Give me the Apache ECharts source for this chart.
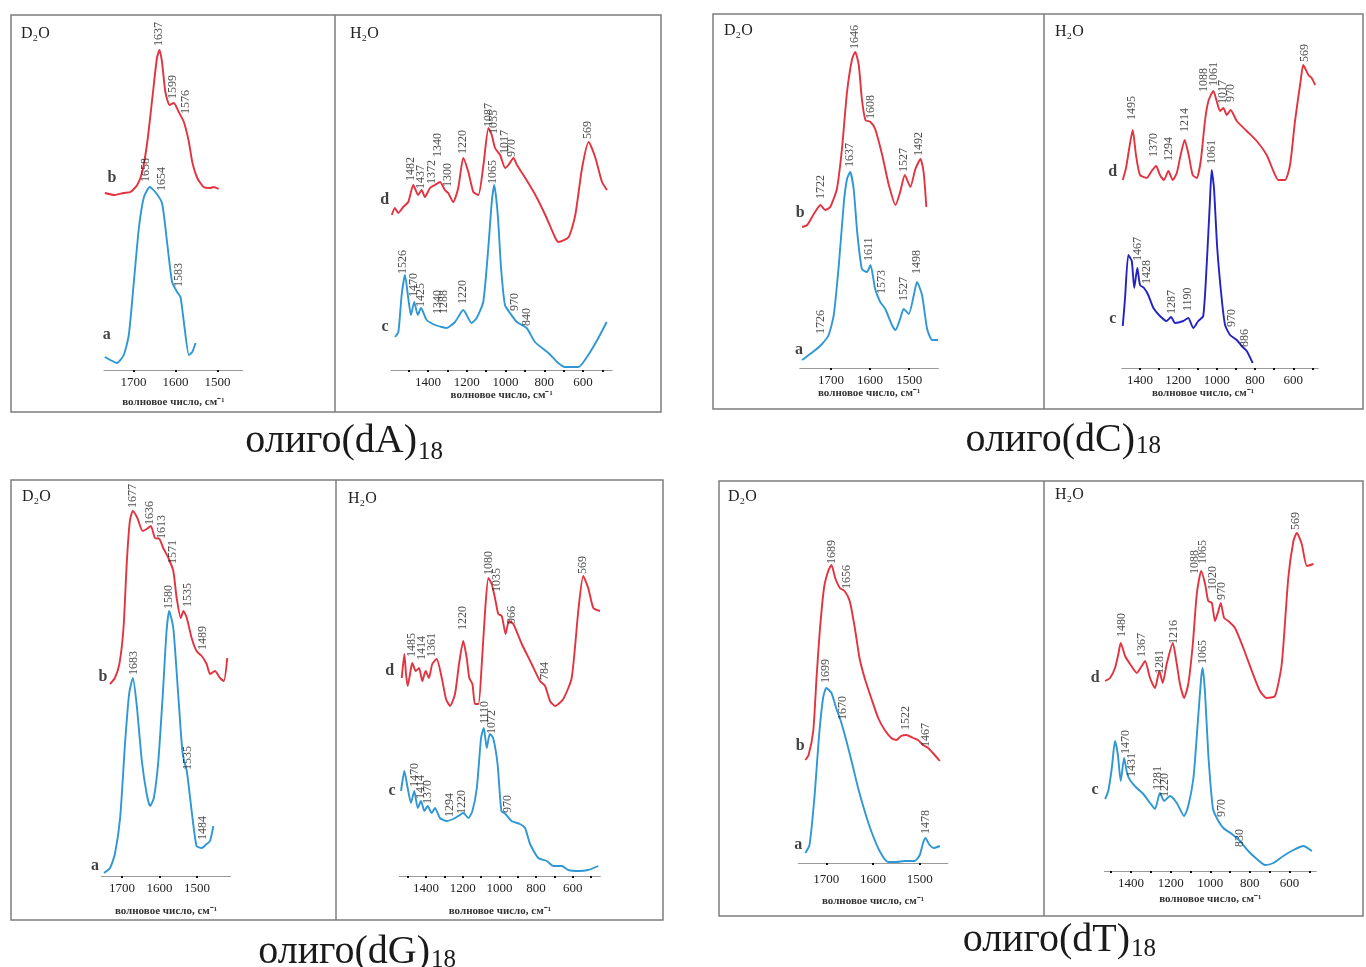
<!DOCTYPE html>
<html><head><meta charset="utf-8">
<script src="https://cdn.jsdelivr.net/npm/echarts@6.0.0/dist/echarts.min.js"></script>
<style>html,body{margin:0;padding:0;background:#fff}#c{width:1366px;height:967px}</style>
</head><body><div id="c"></div><script>
// ---- tick values ----
const d2oTicks = [1700, 1600, 1500];
const h2oLabels = [1400, 1200, 1000, 800, 600];
const h2oTicks = [1500, 1400, 1300, 1200, 1100, 1000, 900, 800, 700, 600, 500];

// ---- olig(dA)18 ----
const dA_D2O_b = [[1768,177],[1745,175],[1723,177],[1707,178],[1691,185],[1679,198],[1667,228],[1655,272],[1644,312],[1638,320],[1632,308],[1624,278],[1614,265],[1604,267],[1592,258],[1580,248],[1568,228],[1560,208],[1548,192],[1533,183],[1517,182],[1509,183],[1497,181]];
const dA_D2O_a = [[1768,13],[1755,10],[1739,7],[1723,15],[1711,35],[1699,88],[1687,142],[1675,173],[1661,183],[1648,178],[1632,167],[1620,128],[1608,88],[1596,78],[1588,73],[1580,48],[1568,15],[1560,18],[1552,27]];
const dA_D2O_b_pk = [[1640,323,'1637'],[1606,270,'1599'],[1576,255,'1576']];
const dA_D2O_a_pk = [[1671,187,'1658'],[1632,178,'1654'],[1591,82,'1583']];
const dA_H2O_d = [[1587,155],[1571,162],[1554,157],[1528,163],[1502,168],[1476,185],[1451,175],[1433,180],[1416,173],[1390,182],[1364,185],[1338,188],[1313,180],[1296,177],[1270,168],[1244,182],[1218,212],[1192,198],[1166,178],[1140,175],[1114,205],[1088,242],[1071,235],[1054,222],[1028,215],[1002,202],[985,205],[959,212],[941,205],[898,192],[846,175],[795,155],[743,132],[726,128],[674,133],[640,155],[605,202],[571,228],[536,212],[502,188],[476,180]];
const dA_H2O_c = [[1570,33],[1553,38],[1536,75],[1519,95],[1502,72],[1488,55],[1471,68],[1453,55],[1436,62],[1407,50],[1364,45],[1329,43],[1304,42],[1261,48],[1218,60],[1175,47],[1149,52],[1115,68],[1089,122],[1071,168],[1058,185],[1040,155],[1023,102],[1003,65],[977,57],[942,48],[891,42],[848,28],[779,17],[728,7],[693,3],[624,3],[573,15],[521,32],[478,48]];
const dA_H2O_d_pk = [[1488,188,'1482'],[1436,180,'1437'],[1381,185,'1372'],[1348,212,'1340'],[1297,182,'1300'],[1219,215,'1220'],[1085,242,'1087'],[1059,235,'1055'],[1003,215,'1017'],[967,212,'970'],[574,230,'569']];
const dA_H2O_c_pk = [[1529,95,'1526'],[1472,72,'1470'],[1436,62,'1425'],[1348,55,'1340'],[1317,55,'1288'],[1219,65,'1220'],[1065,185,'1065'],[951,58,'970'],[889,43,'840']];

// ---- olig(dC)18 ----
const dC_D2O_b = [[1774,141],[1761,143],[1744,154],[1727,163],[1715,158],[1702,161],[1685,179],[1672,219],[1659,276],[1646,309],[1638,316],[1629,303],[1621,269],[1612,248],[1599,246],[1587,239],[1569,213],[1552,183],[1535,163],[1523,176],[1511,193],[1497,181],[1484,199],[1471,209],[1463,196],[1456,161]];
const dC_D2O_a = [[1774,8],[1757,13],[1740,18],[1723,24],[1706,33],[1693,53],[1680,103],[1667,166],[1659,189],[1651,196],[1642,179],[1633,136],[1621,99],[1608,96],[1599,103],[1587,79],[1574,66],[1561,59],[1544,43],[1535,38],[1523,49],[1514,59],[1501,54],[1488,73],[1480,86],[1467,73],[1454,39],[1441,28],[1426,28]];
const dC_D2O_b_pk = [[1727,168,'1722'],[1639,318,'1646'],[1597,248,'1608'],[1514,195,'1527'],[1475,211,'1492']];
const dC_D2O_a_pk = [[1727,33,'1726'],[1651,200,'1637'],[1603,106,'1611'],[1569,73,'1573'],[1514,66,'1527'],[1480,93,'1498']];
const dC_H2O_d = [[1490,188],[1473,200],[1456,220],[1438,238],[1421,213],[1400,193],[1365,190],[1339,197],[1316,202],[1296,193],[1275,188],[1252,197],[1229,188],[1208,195],[1188,213],[1167,228],[1146,213],[1125,193],[1104,190],[1083,207],[1061,247],[1043,267],[1017,277],[1000,267],[982,257],[965,260],[947,253],[927,258],[895,247],[843,237],[791,227],[739,213],[704,197],[678,188],[643,188],[617,203],[591,247],[561,288],[548,303],[521,293],[504,290],[486,283]];
const dC_H2O_c = [[1490,42],[1478,70],[1461,113],[1443,107],[1430,80],[1414,100],[1400,83],[1379,80],[1357,73],[1330,60],[1296,52],[1261,47],[1238,51],[1217,45],[1174,47],[1148,50],[1122,40],[1096,47],[1070,52],[1052,103],[1035,167],[1026,198],[1014,180],[997,120],[974,70],[956,43],[930,33],[895,28],[869,22],[843,17],[812,5]];
const dC_H2O_d_pk = [[1443,247,'1495'],[1327,210,'1370'],[1252,206,'1294'],[1165,235,'1214'],[1066,275,'1088'],[1016,281,'1061'],[970,263,'1017'],[927,265,'970'],[539,305,'569']];
const dC_H2O_c_pk = [[1409,106,'1467'],[1365,83,'1428'],[1235,53,'1287'],[1148,56,'1190'],[1026,203,'1061'],[921,40,'970'],[852,20,'886']];

// ---- olig(dG)18 ----
const dG_D2O_b = [[1732,192],[1719,198],[1707,212],[1696,248],[1687,315],[1679,355],[1671,365],[1659,358],[1645,345],[1634,347],[1623,350],[1612,338],[1600,337],[1590,328],[1576,318],[1563,305],[1554,278],[1543,258],[1536,265],[1527,258],[1514,238],[1501,225],[1487,220],[1474,212],[1465,202],[1452,205],[1438,198],[1428,195],[1419,218]];
const dG_D2O_a = [[1748,3],[1732,8],[1719,22],[1705,58],[1692,132],[1681,182],[1671,198],[1661,172],[1647,115],[1634,82],[1625,70],[1615,78],[1603,115],[1591,182],[1581,245],[1574,265],[1563,248],[1550,182],[1538,122],[1527,105],[1514,65],[1501,30],[1487,28],[1474,32],[1465,35],[1456,50]];
const dG_D2O_b_pk = [[1670,367,'1677'],[1625,350,'1636'],[1594,336,'1613'],[1563,311,'1571'],[1523,268,'1535'],[1483,225,'1489']];
const dG_D2O_a_pk = [[1668,200,'1683'],[1574,266,'1580'],[1523,105,'1535'],[1483,35,'1484']];
const dG_H2O_d = [[1532,198],[1518,222],[1509,202],[1500,190],[1487,202],[1475,213],[1456,205],[1438,208],[1420,195],[1402,205],[1384,198],[1366,212],[1342,217],[1314,198],[1291,177],[1269,170],[1242,182],[1220,212],[1197,235],[1178,218],[1164,198],[1147,192],[1133,172],[1114,172],[1096,212],[1078,265],[1060,298],[1042,292],[1024,278],[1006,262],[987,260],[966,242],[948,255],[924,252],[878,232],[824,212],[779,195],[751,190],[724,175],[697,170],[652,177],[606,198],[570,265],[543,300],[516,288],[488,268],[452,265]];
const dG_H2O_c = [[1536,85],[1518,105],[1500,88],[1482,73],[1464,85],[1445,68],[1427,75],[1409,65],[1391,70],[1369,63],[1351,68],[1324,58],[1287,55],[1251,57],[1224,60],[1197,63],[1169,58],[1147,65],[1123,88],[1100,138],[1085,148],[1069,128],[1052,142],[1034,138],[1010,112],[989,65],[967,62],[934,55],[888,52],[860,48],[833,32],[788,18],[742,15],[706,10],[660,10],[624,6],[570,5],[516,6],[461,10]];
const dG_H2O_d_pk = [[1475,218,'1485'],[1420,215,'1414'],[1369,218,'1361'],[1197,245,'1220'],[1057,300,'1080'],[1015,283,'1035'],[933,251,'966'],[751,195,'784'],[543,301,'569']];
const dG_H2O_c_pk = [[1460,88,'1470'],[1427,76,'1414'],[1391,71,'1370'],[1269,58,'1294'],[1205,61,'1220'],[1082,151,'1110'],[1042,141,'1072'],[955,62,'970']];

// ---- olig(dT)18 ----
const dT_D2O_b = [[1745,103],[1738,108],[1728,132],[1721,185],[1714,232],[1705,275],[1696,292],[1689,298],[1681,285],[1671,275],[1661,272],[1650,262],[1639,235],[1629,205],[1618,185],[1604,165],[1589,145],[1575,133],[1561,125],[1550,123],[1540,127],[1529,128],[1514,125],[1504,123],[1493,118],[1482,115],[1472,110],[1457,102]];
const dT_D2O_a = [[1745,10],[1736,18],[1725,68],[1716,125],[1707,165],[1700,175],[1689,170],[1679,155],[1669,142],[1657,122],[1646,102],[1632,75],[1618,52],[1604,32],[1586,12],[1568,1],[1550,1],[1532,2],[1511,2],[1500,8],[1493,20],[1488,25],[1479,18],[1470,15],[1457,17]];
const dT_D2O_b_pk = [[1689,298,'1689'],[1657,273,'1656'],[1529,132,'1522'],[1486,115,'1467']];
const dT_D2O_a_pk = [[1700,179,'1699'],[1664,142,'1670'],[1488,28,'1478']];
const dT_H2O_d = [[1531,190],[1506,193],[1481,203],[1464,217],[1452,228],[1430,215],[1405,207],[1371,198],[1346,205],[1329,210],[1304,193],[1279,183],[1257,200],[1240,188],[1220,207],[1189,228],[1169,207],[1153,187],[1132,173],[1111,187],[1088,227],[1068,277],[1046,300],[1026,287],[1010,270],[992,268],[976,250],[959,260],[947,268],[930,253],[909,250],[875,243],[833,223],[790,200],[749,180],[715,173],[673,175],[639,207],[606,293],[580,330],[563,338],[538,327],[512,305],[479,307]];
const dT_H2O_c = [[1531,72],[1515,80],[1497,103],[1481,130],[1467,117],[1452,90],[1435,113],[1419,97],[1402,90],[1371,83],[1338,77],[1304,68],[1279,62],[1254,78],[1233,70],[1203,75],[1169,68],[1132,55],[1111,65],[1085,93],[1065,143],[1046,193],[1038,203],[1026,177],[1010,117],[987,63],[967,53],[934,43],[891,37],[850,30],[808,20],[765,12],[723,6],[681,8],[631,15],[580,21],[530,25],[487,20]];
const dT_H2O_d_pk = [[1447,233,'1480'],[1346,213,'1367'],[1257,196,'1281'],[1186,226,'1216'],[1077,296,'1088'],[1035,306,'1065'],[987,280,'1020'],[942,270,'970'],[567,340,'569']];
const dT_H2O_c_pk = [[1425,116,'1470'],[1396,93,'1431'],[1267,80,'1281'],[1228,73,'1220'],[1035,206,'1065'],[942,53,'970'],[850,23,'830']];

// ---- texts ----
const titles = [['олиго(dA)', '18'], ['олиго(dC)', '18'], ['олиго(dG)', '18'], ['олиго(dT)', '18']];
const axisName = 'волновое число, см⁻¹';

// ---- styles / layout ----
const RED = '#e2333f', BLUE = '#2e97d4', NAVY = '#2323c4';
const SERIF = '"Liberation Serif", "Times New Roman", serif';

const plots = [
  {left:104, top:15, width:138.7, height:355, min:1440, max:1770, h2o:false, nameGap:27, namePad:[0,0,0,0], lblMargin:6, head:'D₂O', hx:21, hy:35,
   curves:[{d:dA_D2O_b, pk:dA_D2O_b_pk, c:RED, l:'b', o:[7,-15]}, {d:dA_D2O_a, pk:dA_D2O_a_pk, c:BLUE, l:'a', o:[2,-22]}]},
  {left:391.2, top:15, width:220.9, height:355, min:450, max:1590, h2o:true, nameGap:20, namePad:[0,0,0,0], lblMargin:6, head:'H₂O', hx:350, hy:35,
   curves:[{d:dA_H2O_d, pk:dA_H2O_d_pk, c:RED, l:'d', o:[-7,-15]}, {d:dA_H2O_c, pk:dA_H2O_c_pk, c:BLUE, l:'c', o:[-10,-10]}]},
  {left:799.75, top:13, width:138.7, height:355, min:1425, max:1780, h2o:false, nameGap:19, namePad:[0,0,0,0], lblMargin:6, head:'D₂O', hx:724, hy:32,
   curves:[{d:dC_D2O_b, pk:dC_D2O_b_pk, c:RED, l:'b', o:[-2,-14]}, {d:dC_D2O_a, pk:dC_D2O_a_pk, c:BLUE, l:'a', o:[-3,-10]}]},
  {left:1121.8, top:13, width:196.4, height:355, min:470, max:1495, h2o:true, nameGap:20, namePad:[0,34,0,0], lblMargin:6, head:'H₂O', hx:1055, hy:33,
   curves:[{d:dC_H2O_d, pk:dC_H2O_d_pk, c:RED, l:'d', o:[-10,-8]}, {d:dC_H2O_c, pk:dC_H2O_c_pk, c:NAVY, l:'c', o:[-10,-7]}]},
  {left:101.4, top:478, width:129.2, height:398, min:1410, max:1755, h2o:false, nameGap:30, namePad:[0,0,0,0], lblMargin:6, head:'D₂O', hx:22, hy:498,
   curves:[{d:dG_D2O_b, pk:dG_D2O_b_pk, c:RED, l:'b', o:[-7,-7]}, {d:dG_D2O_a, pk:dG_D2O_a_pk, c:BLUE, l:'a', o:[-9,-7]}]},
  {left:399.4, top:478, width:200.9, height:398, min:450, max:1545, h2o:true, nameGap:30, namePad:[0,0,0,0], lblMargin:6, head:'H₂O', hx:348, hy:500,
   curves:[{d:dG_H2O_d, pk:dG_H2O_d_pk, c:RED, l:'d', o:[-12,-7]}, {d:dG_H2O_c, pk:dG_H2O_c_pk, c:BLUE, l:'c', o:[-9,0]}]},
  {left:798.3, top:481, width:149.5, height:382, min:1440, max:1760, h2o:false, nameGap:33, namePad:[0,0,0,0], lblMargin:10, head:'D₂O', hx:728, hy:498,
   curves:[{d:dT_D2O_b, pk:dT_D2O_b_pk, c:RED, l:'b', o:[-5,-14]}, {d:dT_D2O_a, pk:dT_D2O_a_pk, c:BLUE, l:'a', o:[-7,-8]}]},
  {left:1104.3, top:481, width:211.9, height:390, min:465, max:1535, h2o:true, nameGap:23, namePad:[0,0,0,0], lblMargin:6, head:'H₂O', hx:1055, hy:496,
   curves:[{d:dT_H2O_d, pk:dT_H2O_d_pk, c:RED, l:'d', o:[-10,-3]}, {d:dT_H2O_c, pk:dT_H2O_c_pk, c:BLUE, l:'c', o:[-10,-9]}]}
];

const boxes = [
  {x1:11, y1:15, x2:661, y2:412, div:335},
  {x1:713, y1:14, x2:1363, y2:409, div:1044},
  {x1:11, y1:480, x2:663, y2:920, div:336},
  {x1:719, y1:481, x2:1363, y2:916, div:1044}
];
const titlePos = [
  {x:417, y:441, sy:452},
  {x:1135, y:440, sy:446},
  {x:430, y:952, sy:960},
  {x:1130, y:940, sy:949}
];

const chart = echarts.init(document.getElementById('c'), null, {renderer:'canvas'});
const grid = [], xAxis = [], yAxis = [], series = [], graphic = [];

plots.forEach((p, i) => {
  grid.push({left:p.left, top:p.top, width:p.width, height:p.height, containLabel:false, outerBoundsMode:'none'});
  xAxis.push({
    type:'value', gridIndex:i, inverse:true, min:p.min, max:p.max,
    name: axisName, nameLocation:'middle', nameGap:p.nameGap,
    nameTextStyle:{fontFamily:SERIF, fontSize:11, fontWeight:'bold', color:'#333', padding:p.namePad},
    axisLine:{show:true, lineStyle:{color:'#9a9a9a', width:1}},
    axisTick:{show:true, customValues: p.h2o ? h2oTicks : d2oTicks, length:2, lineStyle:{color:'#111', width:2}},
    axisLabel:{show:true, customValues: p.h2o ? h2oLabels : d2oTicks, formatter: v => String(v), margin:p.lblMargin,
      fontFamily:SERIF, fontSize:13, color:'#222'},
    splitLine:{show:false}
  });
  yAxis.push({type:'value', gridIndex:i, min:0, max:p.height, show:false});
  p.curves.forEach(cv => {
    series.push({type:'line', xAxisIndex:i, yAxisIndex:i, data:cv.d, showSymbol:false, smooth:0.2,
      lineStyle:{color:cv.c, width:1.9}, itemStyle:{color:cv.c}, silent:true, z:2});
    series.push({type:'scatter', xAxisIndex:i, yAxisIndex:i, data:cv.pk, symbolSize:0, silent:true, z:3,
      label:{show:true, formatter:q => q.data[2], position:[0,-1], rotate:90, align:'left', verticalAlign:'middle',
        fontFamily:SERIF, fontSize:12, color:'#222'}});
    series.push({type:'scatter', xAxisIndex:i, yAxisIndex:i, data:[cv.d[0]], symbolSize:0, silent:true, z:3,
      label:{show:true, formatter:cv.l, position:cv.o, align:'center', verticalAlign:'middle',
        fontFamily:SERIF, fontSize:16, fontWeight:'bold', color:'#111'}});
  });
  graphic.push({type:'text', left:p.hx, top:p.hy - 9, silent:true,
    style:{text:p.head, font:'16px ' + SERIF, fill:'#222'}});
});

boxes.forEach(b => {
  graphic.push({type:'rect', silent:true, shape:{x:b.x1, y:b.y1, width:b.x2 - b.x1, height:b.y2 - b.y1},
    style:{fill:'none', stroke:'#7d7d7d', lineWidth:1.5}});
  graphic.push({type:'line', silent:true, shape:{x1:b.div, y1:b.y1, x2:b.div, y2:b.y2},
    style:{stroke:'#7d7d7d', lineWidth:1.5}});
});

titles.forEach((t, i) => {
  const tp = titlePos[i];
  graphic.push({type:'text', x:tp.x, y:tp.y, silent:true,
    style:{text:t[0], font:'40px ' + SERIF, fill:'#1a1a1a', align:'right', verticalAlign:'middle'}});
  graphic.push({type:'text', x:tp.x + 1, y:tp.sy, silent:true,
    style:{text:t[1], font:'25px ' + SERIF, fill:'#1a1a1a', align:'left', verticalAlign:'middle'}});
});

chart.setOption({animation:false, backgroundColor:'#fff', grid, xAxis, yAxis, series, graphic});
</script></body></html>
